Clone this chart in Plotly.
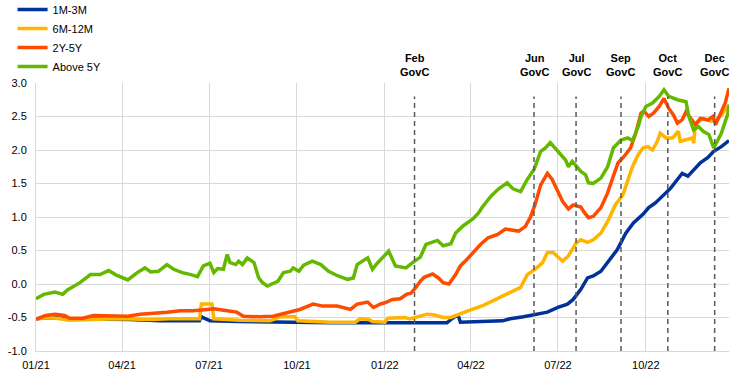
import plotly.graph_objects as go

# ---------------- data ----------------
series_names = ["1M-3M", "6M-12M", "2Y-5Y", "Above 5Y"]
series_colors = ["#003299", "#FFB400", "#FF4B00", "#65B800"]

blue_dates = ["2021-01-01", "2021-01-16", "2021-02-05", "2021-03-09", "2021-04-09", "2021-05-11",
              "2021-06-21", "2021-06-23", "2021-07-02", "2021-08-02", "2021-09-03", "2021-10-04",
              "2021-11-05", "2021-12-06", "2022-01-07", "2022-01-27", "2022-03-07", "2022-03-11",
              "2022-03-16", "2022-03-19", "2022-03-21", "2022-05-04", "2022-05-12", "2022-05-26",
              "2022-06-10", "2022-06-20", "2022-07-01", "2022-07-11", "2022-07-17", "2022-07-25",
              "2022-08-01", "2022-08-07", "2022-08-15", "2022-08-22", "2022-09-01", "2022-09-10",
              "2022-09-18", "2022-09-28", "2022-10-04", "2022-10-11", "2022-10-20", "2022-10-27",
              "2022-11-03", "2022-11-08", "2022-11-14", "2022-11-20", "2022-11-27", "2022-12-05",
              "2022-12-11", "2022-12-19", "2022-12-27"]
blue_vals = [-0.52, -0.50, -0.52, -0.52, -0.53, -0.55,
             -0.55, -0.49, -0.55, -0.56, -0.57, -0.57,
             -0.58, -0.58, -0.58, -0.58, -0.58, -0.53,
             -0.48, -0.48, -0.57, -0.55, -0.52, -0.49,
             -0.45, -0.42, -0.35, -0.30, -0.23, -0.08,
             0.09, 0.12, 0.19, 0.32, 0.51, 0.76,
             0.91, 1.04, 1.14, 1.21, 1.33, 1.43,
             1.56, 1.65, 1.61, 1.70, 1.81, 1.89,
             1.98, 2.05, 2.14]

yellow_dates = ["2021-01-01", "2021-01-16", "2021-01-26", "2021-02-05", "2021-02-27", "2021-03-30",
                "2021-05-01", "2021-05-21", "2021-06-21", "2021-06-23", "2021-07-04", "2021-07-06",
                "2021-08-02", "2021-09-03", "2021-09-08", "2021-09-13", "2021-09-29", "2021-10-02",
                "2021-11-05", "2021-12-01", "2021-12-06", "2021-12-15", "2021-12-19", "2022-01-01",
                "2022-01-04", "2022-01-22", "2022-01-27", "2022-02-05", "2022-02-14", "2022-02-21",
                "2022-03-03", "2022-03-11", "2022-03-21", "2022-03-31", "2022-04-14", "2022-04-24",
                "2022-05-05", "2022-05-15", "2022-05-23", "2022-05-30", "2022-06-07", "2022-06-15",
                "2022-06-20", "2022-06-26", "2022-07-06", "2022-07-12", "2022-07-20", "2022-07-25",
                "2022-08-01", "2022-08-07", "2022-08-15", "2022-08-23", "2022-08-30", "2022-09-07",
                "2022-09-12", "2022-09-17", "2022-09-23", "2022-09-28", "2022-10-03", "2022-10-08",
                "2022-10-13", "2022-10-16", "2022-10-22", "2022-10-29", "2022-11-04", "2022-11-06",
                "2022-11-14", "2022-11-19", "2022-11-20", "2022-11-22", "2022-11-30", "2022-12-08",
                "2022-12-13", "2022-12-19", "2022-12-26"]
yellow_vals = [-0.52, -0.50, -0.52, -0.54, -0.53, -0.52,
               -0.53, -0.52, -0.52, -0.30, -0.30, -0.52,
               -0.54, -0.55, -0.52, -0.49, -0.49, -0.55,
               -0.57, -0.57, -0.52, -0.53, -0.56, -0.57,
               -0.51, -0.50, -0.52, -0.48, -0.45, -0.46,
               -0.50, -0.50, -0.44, -0.39, -0.32, -0.25,
               -0.18, -0.10, -0.05, 0.14, 0.22, 0.32,
               0.47, 0.47, 0.34, 0.42, 0.61, 0.66,
               0.62, 0.66, 0.76, 0.96, 1.18, 1.33,
               1.56, 1.75, 1.93, 2.03, 2.05, 2.00,
               2.13, 2.25, 2.18, 2.18, 2.28, 2.13,
               2.16, 2.18, 2.10, 2.40, 2.47, 2.43,
               2.45, 2.52, 2.65]

red_dates = ["2021-01-01", "2021-01-11", "2021-01-21", "2021-01-31", "2021-02-05", "2021-02-19",
             "2021-03-02", "2021-03-19", "2021-04-07", "2021-04-20", "2021-05-03", "2021-05-18",
             "2021-06-01", "2021-06-14", "2021-06-29", "2021-07-06", "2021-07-20", "2021-07-30",
             "2021-08-06", "2021-08-23", "2021-09-06", "2021-09-21", "2021-10-04", "2021-10-18",
             "2021-10-28", "2021-11-12", "2021-11-26", "2021-12-03", "2021-12-14", "2021-12-20",
             "2021-12-27", "2022-01-01", "2022-01-09", "2022-01-17", "2022-01-24", "2022-01-28",
             "2022-02-02", "2022-02-07", "2022-02-11", "2022-02-20", "2022-02-26", "2022-03-03",
             "2022-03-09", "2022-03-16", "2022-03-21", "2022-03-28", "2022-04-04", "2022-04-11",
             "2022-04-19", "2022-04-29", "2022-05-07", "2022-05-15", "2022-05-21", "2022-05-28",
             "2022-06-02", "2022-06-07", "2022-06-13", "2022-06-20", "2022-06-25", "2022-07-01",
             "2022-07-06", "2022-07-12", "2022-07-17", "2022-07-25", "2022-07-28", "2022-08-02",
             "2022-08-07", "2022-08-15", "2022-08-22", "2022-08-28", "2022-09-02", "2022-09-08",
             "2022-09-15", "2022-09-20", "2022-09-26", "2022-09-29", "2022-10-04", "2022-10-09",
             "2022-10-15", "2022-10-20", "2022-10-25", "2022-10-30", "2022-11-03", "2022-11-08",
             "2022-11-12", "2022-11-17", "2022-11-22", "2022-11-27", "2022-12-05", "2022-12-10",
             "2022-12-13", "2022-12-19", "2022-12-23", "2022-12-27"]
red_vals = [-0.53, -0.47, -0.45, -0.47, -0.51, -0.51,
            -0.47, -0.48, -0.48, -0.45, -0.43, -0.42,
            -0.40, -0.40, -0.38, -0.37, -0.40, -0.42,
            -0.48, -0.49, -0.48, -0.42, -0.38, -0.30,
            -0.33, -0.33, -0.38, -0.30, -0.27, -0.35,
            -0.30, -0.28, -0.23, -0.22, -0.15, -0.14,
            -0.06, 0.04, 0.10, 0.15, 0.09, 0.02,
            0.00, 0.14, 0.27, 0.37, 0.49, 0.59,
            0.69, 0.74, 0.82, 0.81, 0.79, 0.86,
            0.99, 1.18, 1.48, 1.65, 1.56, 1.38,
            1.23, 1.12, 1.18, 1.15, 1.08, 0.99,
            1.01, 1.14, 1.36, 1.61, 1.81, 1.90,
            2.03, 2.23, 2.55, 2.58, 2.50, 2.55,
            2.65, 2.77, 2.62, 2.52, 2.40, 2.45,
            2.57, 2.47, 2.38, 2.47, 2.45, 2.50,
            2.38, 2.57, 2.70, 2.92]

green_dates = ["2021-01-01", "2021-01-09", "2021-01-21", "2021-01-29", "2021-02-03", "2021-02-16",
               "2021-02-27", "2021-03-09", "2021-03-18", "2021-03-25", "2021-04-07", "2021-04-17",
               "2021-04-25", "2021-05-01", "2021-05-09", "2021-05-18", "2021-05-25", "2021-06-03",
               "2021-06-12", "2021-06-19", "2021-06-25", "2021-07-02", "2021-07-06", "2021-07-10",
               "2021-07-16", "2021-07-20", "2021-07-23", "2021-07-29", "2021-08-01", "2021-08-05",
               "2021-08-10", "2021-08-17", "2021-08-22", "2021-08-26", "2021-08-31", "2021-09-05",
               "2021-09-11", "2021-09-17", "2021-09-24", "2021-09-27", "2021-10-03", "2021-10-08",
               "2021-10-17", "2021-10-26", "2021-11-03", "2021-11-13", "2021-11-23", "2021-11-29",
               "2021-12-03", "2021-12-14", "2021-12-19", "2021-12-24", "2022-01-05", "2022-01-12",
               "2022-01-23", "2022-01-30", "2022-02-07", "2022-02-13", "2022-02-20", "2022-02-25",
               "2022-03-03", "2022-03-11", "2022-03-16", "2022-03-24", "2022-04-03", "2022-04-09",
               "2022-04-13", "2022-04-22", "2022-04-30", "2022-05-09", "2022-05-15", "2022-05-23",
               "2022-05-30", "2022-06-06", "2022-06-13", "2022-06-18", "2022-06-23", "2022-07-01",
               "2022-07-09", "2022-07-12", "2022-07-16", "2022-07-25", "2022-07-30", "2022-08-02",
               "2022-08-07", "2022-08-15", "2022-08-22", "2022-08-28", "2022-09-05", "2022-09-12",
               "2022-09-17", "2022-09-23", "2022-09-26", "2022-10-01", "2022-10-08", "2022-10-15",
               "2022-10-20", "2022-10-25", "2022-11-03", "2022-11-12", "2022-11-15", "2022-11-20",
               "2022-11-25", "2022-11-30", "2022-12-06", "2022-12-11", "2022-12-19", "2022-12-26",
               "2022-12-27"]
green_vals = [-0.22, -0.155, -0.12, -0.155, -0.09, 0.02,
              0.14, 0.14, 0.20, 0.14, 0.06, 0.17,
              0.24, 0.18, 0.19, 0.29, 0.22, 0.17,
              0.14, 0.11, 0.27, 0.31, 0.17, 0.23,
              0.22, 0.44, 0.32, 0.29, 0.34, 0.29,
              0.39, 0.32, 0.09, 0.02, -0.03, 0.00,
              0.04, 0.17, 0.19, 0.24, 0.19, 0.28,
              0.34, 0.29, 0.19, 0.12, 0.07, 0.09,
              0.29, 0.39, 0.22, 0.31, 0.49, 0.27,
              0.24, 0.32, 0.40, 0.59, 0.62, 0.65,
              0.57, 0.60, 0.76, 0.87, 0.97, 1.06,
              1.15, 1.31, 1.42, 1.51, 1.42, 1.38,
              1.56, 1.71, 1.98, 2.03, 2.11, 1.98,
              1.85, 1.75, 1.83, 1.68, 1.63, 1.51,
              1.50, 1.58, 1.75, 2.03, 2.15, 2.18,
              2.14, 2.35, 2.50, 2.65, 2.70, 2.80,
              2.90, 2.80, 2.75, 2.72, 2.50, 2.30,
              2.35, 2.28, 2.23, 2.03, 2.25, 2.55,
              2.68]

meeting_dates = ["2022-02-01", "2022-06-06", "2022-07-20", "2022-09-05", "2022-10-24", "2022-12-12"]
meeting_labels = ["Feb<br>GovC", "Jun<br>GovC", "Jul<br>GovC", "Sep<br>GovC", "Oct<br>GovC", "Dec<br>GovC"]

y_tick_vals = [-1.0, -0.5, 0.0, 0.5, 1.0, 1.5, 2.0, 2.5, 3.0]
y_tick_text = ["-1.0", "-0.5", "0.0", "0.5", "1.0", "1.5", "2.0", "2.5", "3.0"]

# ---------------- figure ----------------
FONT = "Liberation Sans, Arial, sans-serif"
fig = go.Figure()

all_dates = [blue_dates, yellow_dates, red_dates, green_dates]
all_vals = [blue_vals, yellow_vals, red_vals, green_vals]
for name, color, xs, ys in zip(series_names, series_colors, all_dates, all_vals):
    fig.add_trace(go.Scatter(x=xs, y=ys, mode="lines", name=name,
                             line=dict(color=color, width=3.5)))

for d, lab in zip(meeting_dates, meeting_labels):
    fig.add_shape(type="line", xref="x", yref="y", x0=d, x1=d, y0=-1.0, y1=2.8,
                  line=dict(color="#595959", width=1.5, dash="5px,4px"), layer="above")
    fig.add_annotation(x=d, xref="x", y=1.0, yref="paper", yshift=3, text="<b>" + lab + "</b>",
                       showarrow=False, xanchor="center", yanchor="bottom",
                       font=dict(family=FONT, size=11, color="#000000"))

fig.update_layout(
    width=740, height=378,
    margin=dict(l=36, r=11, t=83, b=27, autoexpand=False),
    paper_bgcolor="white", plot_bgcolor="white",
    font=dict(family=FONT, size=11, color="#000000"),
    showlegend=True,
    legend=dict(x=0.017, xref="container", y=1.007, yref="paper",
                xanchor="left", yanchor="bottom",
                bgcolor="rgba(0,0,0,0)", font=dict(size=11, color="#000000"),
                itemwidth=30, tracegroupgap=0),
    xaxis=dict(type="date", range=["2021-01-01", "2022-12-27"],
               tick0="2021-01-01", dtick="M3", tickformat="%m/%y",
               showgrid=True, gridcolor="#d9d9d9", gridwidth=1,
               showline=True, linecolor="#d9d9d9", linewidth=1,
               ticks="", zeroline=False, ticklabelstandoff=4,
               tickfont=dict(size=11, color="#000000")),
    yaxis=dict(range=[-1.0, 3.0], tickvals=y_tick_vals, ticktext=y_tick_text,
               showgrid=True, gridcolor="#d9d9d9", gridwidth=1,
               showline=True, linecolor="#d9d9d9", linewidth=1,
               ticks="", zeroline=False, ticklabelstandoff=6,
               tickfont=dict(size=11, color="#000000")),
)

fig.write_html("out.html", config={"displayModeBar": False},
               post_script="document.body.style.margin='0';")
